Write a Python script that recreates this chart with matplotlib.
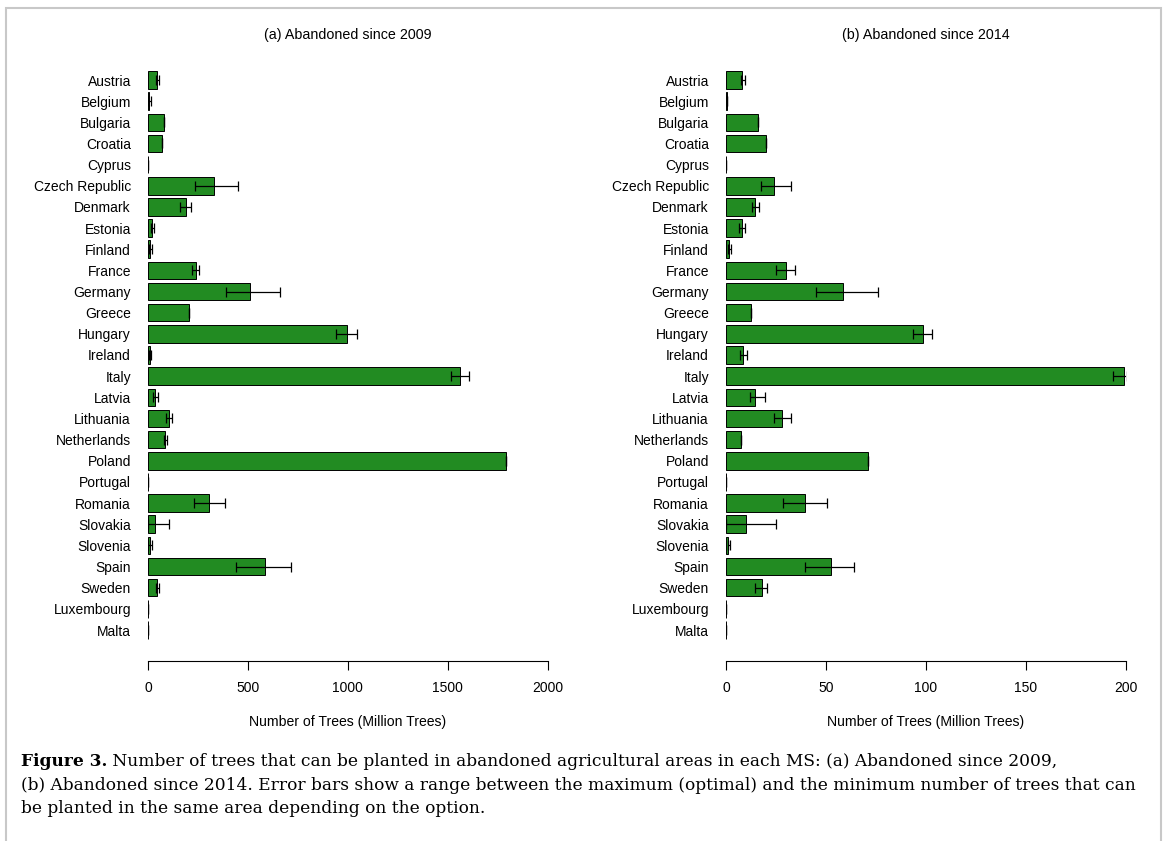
import matplotlib
matplotlib.use("Agg")
import matplotlib.pyplot as plt
from matplotlib.patches import Rectangle
import numpy as np

plt.rcParams['font.family'] = ['Liberation Sans', 'DejaVu Sans']

countries = ['Austria', 'Belgium', 'Bulgaria', 'Croatia', 'Cyprus', 'Czech Republic',
             'Denmark', 'Estonia', 'Finland', 'France', 'Germany', 'Greece', 'Hungary',
             'Ireland', 'Italy', 'Latvia', 'Lithuania', 'Netherlands', 'Poland',
             'Portugal', 'Romania', 'Slovakia', 'Slovenia', 'Spain', 'Sweden',
             'Luxembourg', 'Malta']

# (a) abandoned since 2009, million trees
trees_2009 = [47, 7, 78, 68, 1, 330, 190, 22, 12, 242, 511, 207, 996, 12, 1564,
              37, 107, 87, 1790, 1, 307, 37, 12, 588, 47, 1, 1]
min_2009 = [42, 2, 78, 68, 1, 235, 162, 15, 5, 222, 392, 207, 941, 7, 1519,
            27, 88, 80, 1790, 1, 229, 0, 2, 442, 38, 1, 1]
max_2009 = [57, 15, 78, 68, 1, 449, 215, 30, 20, 255, 663, 207, 1048, 17, 1609,
            52, 122, 93, 1790, 1, 386, 105, 22, 716, 55, 1, 1]

# (b) abandoned since 2014, million trees
trees_2014 = [8.2, 0.5, 16.2, 19.9, 0.1, 24.2, 14.7, 8.2, 1.7, 30.2, 58.8, 12.7, 98.4,
              8.5, 199.3, 14.7, 28.2, 7.4, 71.0, 0.1, 39.4, 9.9, 1.2, 52.8, 17.9, 0.1, 0.1]
min_2014 = [7.4, 0.4, 16.2, 19.9, 0.1, 17.5, 12.9, 6.5, 1.2, 25.2, 45.1, 12.7, 93.4,
            6.9, 193.8, 11.9, 23.9, 7.3, 71.0, 0.1, 28.6, 0.0, 0.8, 39.3, 14.7, 0.1, 0.1]
max_2014 = [9.4, 0.7, 16.2, 19.9, 0.1, 32.7, 16.7, 9.5, 2.5, 34.6, 76.2, 12.7, 103.3,
            10.7, 201.0, 19.5, 32.7, 7.7, 71.0, 0.1, 50.4, 25.2, 1.8, 64.2, 20.4, 0.1, 0.1]

titles = ['(a) Abandoned since 2009', '(b) Abandoned since 2014']
xticks_a = [0, 500, 1000, 1500, 2000]
xticks_b = [0, 50, 100, 150, 200]
xlabel = 'Number of Trees (Million Trees)'

caption_bold = 'Figure 3.'
caption_lines = [
    ' Number of trees that can be planted in abandoned agricultural areas in each MS: (a) Abandoned since 2009,',
    '(b) Abandoned since 2014. Error bars show a range between the maximum (optimal) and the minimum number of trees that can',
    'be planted in the same area depending on the option.',
]

W, H = 1165, 841
fig = plt.figure(figsize=(W / 100, H / 100), dpi=100)

# page frame
fig.patches.append(Rectangle((6 / W, -0.1), (1161 - 6) / W, 1.1 - 8 / H,
                             transform=fig.transFigure, fill=False,
                             edgecolor='#c8c8c8', linewidth=1.5))


def px_axes(left, right, top, bottom):
    return fig.add_axes([left / W, 1 - bottom / H, (right - left) / W, (bottom - top) / H])


row_gap = (630 - 80) / 26.0
top_px = 80 - 0.5 * row_gap
bot_px = 630 + 0.5 * row_gap


def draw_panel(ax, vals, lo, hi, xmax, ticks, title):
    y = np.arange(len(countries))
    vals = np.array(vals)
    err = [vals - np.array(lo), np.array(hi) - vals]
    ax.barh(y, vals, height=0.83, color='#228B22', edgecolor='black', linewidth=0.7)
    ax.errorbar(vals, y, xerr=err, fmt='none', ecolor='black', elinewidth=0.9,
                capsize=3.6, capthick=0.9)
    ax.set_xlim(0, xmax)
    ax.set_ylim(len(countries) - 0.5, -0.5)
    ax.set_yticks(y)
    ax.set_yticklabels(countries, fontsize=10)
    ax.tick_params(axis='y', length=0, pad=12.3)
    for s in ['top', 'right', 'left']:
        ax.spines[s].set_visible(False)
    ax.spines['bottom'].set_position(('outward', 14.7))
    ax.spines['bottom'].set_bounds(0, xmax)
    ax.spines['bottom'].set_linewidth(0.8)
    ax.set_xticks(ticks)
    ax.set_xticklabels([str(t) for t in ticks], fontsize=10)
    ax.tick_params(axis='x', direction='out', length=6.5, width=0.8, pad=8)
    ax.set_xlabel(xlabel, fontsize=10.1, labelpad=14)
    ax.set_title(title, fontsize=10.3, pad=22)


ax1 = px_axes(148, 547.5, top_px, bot_px)
draw_panel(ax1, trees_2009, min_2009, max_2009, 2000, xticks_a, titles[0])
ax2 = px_axes(726, 1125.5, top_px, bot_px)
draw_panel(ax2, trees_2014, min_2014, max_2014, 200, xticks_b, titles[1])

# caption: size chosen so the long second line runs to about the same right edge
renderer = fig.canvas.get_renderer()
serif = ['DejaVu Serif', 'Liberation Serif']
probe = fig.text(0, 0, caption_lines[1], fontsize=12, family=serif)
w12 = probe.get_window_extent(renderer).width
probe.remove()
cap_size = 12 * (1126 - 21) / w12

cap_kw = dict(fontsize=cap_size, family=serif, va='baseline')
base = [766, 790, 813]
t0 = fig.text(21 / W, 1 - base[0] / H, caption_bold, fontweight='bold', **cap_kw)
bb = t0.get_window_extent(renderer)
fig.text(bb.x1 / W, 1 - base[0] / H, caption_lines[0], **cap_kw)
fig.text(21 / W, 1 - base[1] / H, caption_lines[1], **cap_kw)
fig.text(21 / W, 1 - base[2] / H, caption_lines[2], **cap_kw)

fig.savefig('out.png', dpi=100, facecolor='white')
